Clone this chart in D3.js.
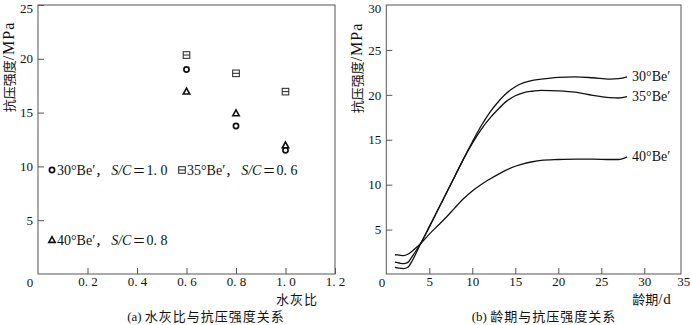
<!DOCTYPE html>
<html><head><meta charset="utf-8">
<script src="https://cdn.jsdelivr.net/npm/d3@7"></script>
<style>
body{margin:0;background:#fff;}
text{font-family:"Liberation Serif","Noto Sans CJK SC",serif;fill:#111;}
.cjk{font-family:"Noto Sans CJK SC","Liberation Serif",sans-serif;}
</style></head>
<body><svg id="c" width="690" height="325"></svg>
<script>
// ---- data: chart (a) ----
const ratioTicks = [0.2, 0.4, 0.6, 0.8, 1.0, 1.2];
const strengthTicksA = [5, 10, 15, 20, 25];
const ratios = [0.6, 0.8, 1.0];
const be30 = [19.0, 13.75, 11.5];
const be35 = [20.35, 18.65, 16.95];
const be40 = [16.95, 14.93, 11.95];
// ---- data: chart (b) ----
const dayTicks = [5, 10, 15, 20, 25, 30, 35];
const strengthTicksB = [5, 10, 15, 20, 25, 30];
const days = [1,1.5,2,2.5,3,3.5,4,5,6,7,8,9,10,11,12,13,14,15,16,17,18,20,22,24,26,27,28];
const curve30 = [0.8,0.7,0.65,0.8,1.5,2.45,3.45,5.3,7.2,9.1,11.0,12.9,14.75,16.5,18.0,19.2,20.2,20.9,21.35,21.6,21.75,21.95,22.0,21.9,21.75,21.8,22.0];
const curve35 = [1.37,1.28,1.2,1.35,2.0,2.7,3.45,5.3,7.2,9.1,11.0,12.9,14.6,16.1,17.35,18.4,19.3,19.9,20.25,20.4,20.5,20.45,20.3,19.95,19.7,19.65,19.8];
const curve40 = [2.2,2.15,2.1,2.25,2.6,3.0,3.45,4.5,5.45,6.4,7.45,8.45,9.3,10.0,10.6,11.15,11.65,12.05,12.35,12.55,12.7,12.8,12.85,12.85,12.8,12.8,13.1];
const curveLabels = ["30°Be′", "35°Be′", "40°Be′"];

const svg = d3.select("#c");
const fmtA = d => d3.format(".1f")(d).replace(".", ". ");

// ================= chart (a) =================
const xA = d3.scaleLinear().domain([0, 1.2]).range([38, 335]);
const yA = d3.scaleLinear().domain([0, 25]).range([274, 5]);
const gA = svg.append("g");
gA.append("rect").attr("x", xA(0)).attr("y", yA(25)).attr("width", xA(1.2) - xA(0)).attr("height", yA(0) - yA(25))
  .attr("fill", "none").attr("stroke", "#555").attr("stroke-width", 1);
const axA = gA.append("g").attr("transform", `translate(0,${yA(0)})`)
  .call(d3.axisBottom(xA).tickValues(ratioTicks).tickSize(-6).tickPadding(3).tickFormat(fmtA));
const ayA = gA.append("g").attr("transform", `translate(${xA(0)},0)`)
  .call(d3.axisLeft(yA).tickValues(strengthTicksA).tickSize(-6).tickPadding(5));
[axA, ayA].forEach(a => { a.select(".domain").remove(); a.selectAll("line").attr("stroke", "#555");
  a.selectAll("text").attr("font-size", 13).attr("font-family", "Liberation Serif").attr("fill", "#111"); });
ayA.selectAll(".tick").filter(d => d === 25).select("text").attr("dy", "0.6em");
gA.append("text").attr("x", 30).attr("y", 287).attr("font-size", 13).attr("text-anchor", "middle").text("0");

// markers
function circ(g, x, y) { g.append("circle").attr("cx", x).attr("cy", y).attr("r", 2.6).attr("fill", "#fff").attr("stroke", "#111").attr("stroke-width", 1.7); }
function sq(g, x, y) {
  g.append("rect").attr("x", x - 3.3).attr("y", y - 3.3).attr("width", 6.6).attr("height", 6.6).attr("fill", "#fff").attr("stroke", "#222").attr("stroke-width", 1);
  g.append("line").attr("x1", x - 3.3).attr("x2", x + 3.3).attr("y1", y).attr("y2", y).attr("stroke", "#222").attr("stroke-width", 1);
}
function tri(g, x, y) {
  g.append("path").attr("d", `M${x},${y - 3.4}L${x + 3.2},${y + 2.4}L${x - 3.2},${y + 2.4}Z`).attr("fill", "#fff").attr("stroke", "#111").attr("stroke-width", 1.6);
}
ratios.forEach((r, i) => { sq(gA, xA(r), yA(be35[i])); });
ratios.forEach((r, i) => { circ(gA, xA(r), yA(be30[i])); });
ratios.forEach((r, i) => { tri(gA, xA(r), yA(be40[i])); });

// legend
function legendText(x, y, deg, val) {
  const t = gA.append("text").attr("x", x).attr("y", y).attr("font-size", 14);
  t.append("tspan").text(deg);
  t.append("tspan").attr("class", "cjk").attr("font-size", 13).text("，");
  t.append("tspan").attr("font-style", "italic").attr("dx", 3).text("S/C");
  t.append("tspan").attr("class", "cjk").attr("font-size", 13).attr("dx", 1).text("＝");
  t.append("tspan").attr("dx", 1).text(val);
}
circ(gA, 52, 170); legendText(57, 175, "30°Be′", "1. 0");
sq(gA, 182, 170); legendText(187, 175, "35°Be′", "0. 6");
tri(gA, 52, 240); legendText(57, 245, "40°Be′", "0. 8");

gA.append("text").attr("class", "cjk").attr("x", 297).attr("y", 304).attr("font-size", 13).attr("text-anchor", "middle").attr("letter-spacing", 1).text("水灰比");
const ytA = gA.append("text").attr("transform", "translate(14,67) rotate(-90)").attr("text-anchor", "middle");
ytA.append("tspan").attr("class", "cjk").attr("font-size", 13).text("抗压强度");
ytA.append("tspan").attr("font-size", 16).attr("letter-spacing", 1).text("/MPa");
const capA = gA.append("text").attr("x", 206).attr("y", 321).attr("text-anchor", "middle").attr("font-size", 13);
capA.append("tspan").text("(a) ");
capA.append("tspan").attr("class", "cjk").attr("letter-spacing", 1).text("水灰比与抗压强度关系");

// ================= chart (b) =================
const xB = d3.scaleLinear().domain([0, 35]).range([386.3, 687.3]);
const yB = d3.scaleLinear().domain([0, 30]).range([274.5, 5]);
const gB = svg.append("g");
gB.append("rect").attr("x", xB(0)).attr("y", yB(30)).attr("width", 681 - xB(0)).attr("height", 274 - yB(30))
  .attr("fill", "none").attr("stroke", "#555").attr("stroke-width", 1);
const axB = gB.append("g").attr("transform", `translate(0,274)`)
  .call(d3.axisBottom(xB).tickValues(dayTicks).tickSize(-6).tickPadding(3));
axB.selectAll(".tick").filter(d => d === 35).select("line").remove();
axB.selectAll(".tick").filter(d => d === 35).select("text").attr("dx", -4);
const ayB = gB.append("g").attr("transform", `translate(${xB(0)},0)`)
  .call(d3.axisLeft(yB).tickValues(strengthTicksB).tickSize(-6).tickPadding(5));
ayB.selectAll(".tick").filter(d => d === 30).select("line").remove();
ayB.selectAll(".tick").filter(d => d === 30).select("text").attr("dy", "0.6em");
[axB, ayB].forEach(a => { a.select(".domain").remove(); a.selectAll("line").attr("stroke", "#555");
  a.selectAll("text").attr("font-size", 13).attr("font-family", "Liberation Serif").attr("fill", "#111"); });
gB.append("text").attr("x", 382).attr("y", 287).attr("font-size", 13).attr("text-anchor", "middle").text("0");

const line = d3.line().x((d, i) => xB(days[i])).y(d => yB(d)).curve(d3.curveMonotoneX);
[curve30, curve35, curve40].forEach((c, k) => {
  gB.append("path").attr("d", line(c)).attr("fill", "none").attr("stroke", "#111").attr("stroke-width", 1.3);
  gB.append("text").attr("x", xB(days[days.length - 1]) + 5).attr("y", yB(c[c.length - 1]) + 4.5)
    .attr("font-size", 14).text(curveLabels[k]);
});

gB.append("text").attr("x", 652).attr("y", 304).attr("text-anchor", "middle").attr("font-size", 13)
  .call(t => { t.append("tspan").attr("class", "cjk").text("龄期"); t.append("tspan").attr("font-size", 15).attr("letter-spacing", 1).text("/d"); });
const ytB = gB.append("text").attr("transform", "translate(362,68) rotate(-90)").attr("text-anchor", "middle");
ytB.append("tspan").attr("class", "cjk").attr("font-size", 13).text("抗压强度");
ytB.append("tspan").attr("font-size", 16).attr("letter-spacing", 1).text("/MPa");
const capB = gB.append("text").attr("x", 544).attr("y", 321).attr("text-anchor", "middle").attr("font-size", 13);
capB.append("tspan").text("(b) ");
capB.append("tspan").attr("class", "cjk").attr("letter-spacing", 1).text("龄期与抗压强度关系");
</script></body></html>
